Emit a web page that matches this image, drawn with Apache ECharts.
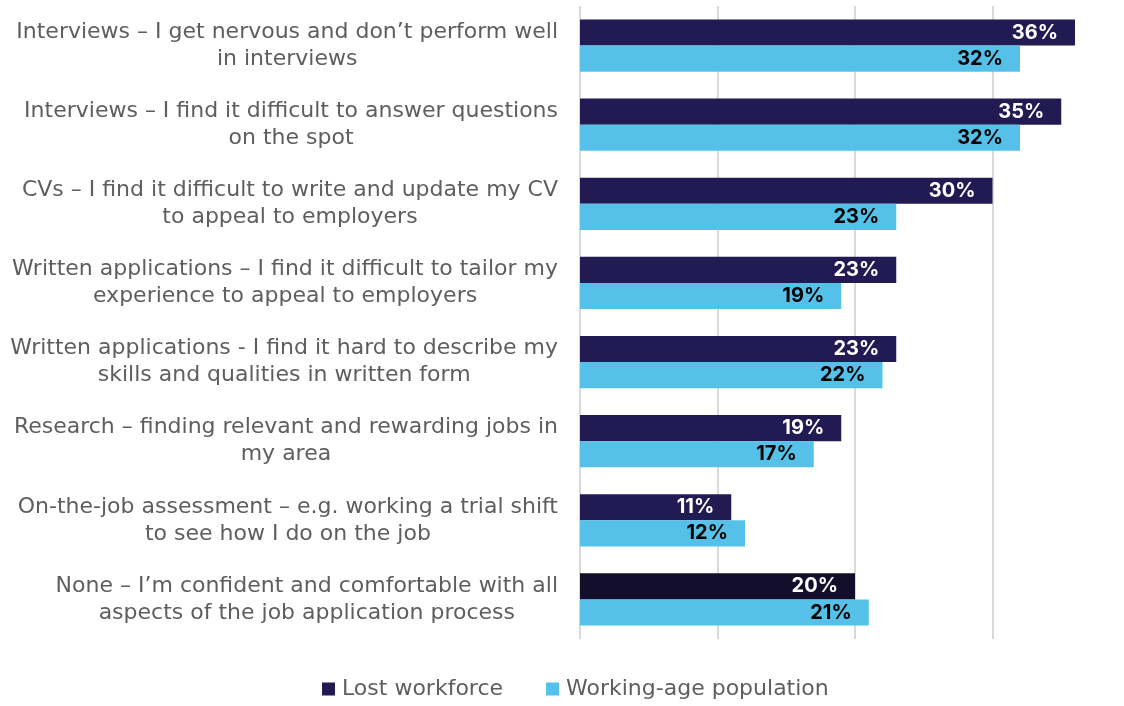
<!DOCTYPE html>
<html>
<head>
<meta charset="utf-8">
<script src="https://cdn.jsdelivr.net/npm/echarts@6/dist/echarts.min.js"></script>
<style>
  html, body { margin: 0; padding: 0; background: #ffffff; }
  #chart { width: 1124px; height: 706px; }
</style>
</head>
<body>
<div id="chart"></div>
<script>
// Barriers in the job application process, share of respondents (%)
const categories = [
  'Interviews – I get nervous and don’t perform well\nin interviews',
  'Interviews – I find it difficult to answer questions\non the spot',
  'CVs – I find it difficult to write and update my CV\nto appeal to employers',
  'Written applications – I find it difficult to tailor my\nexperience to appeal to employers',
  'Written applications - I find it hard to describe my\nskills and qualities in written form',
  'Research – finding relevant and rewarding jobs in\nmy area',
  'On-the-job assessment – e.g. working a trial shift\nto see how I do on the job',
  'None – I’m confident and comfortable with all\naspects of the job application process'
];
const seriesNames = ['Lost workforce', 'Working-age population'];
const lostWorkforce = [36, 35, 30, 23, 23, 19, 11, 20];
const workingAge = [32, 32, 23, 19, 22, 17, 12, 21];

const DARK = '#221a52';
const DARKEST = '#130e2b';
const LIGHT = '#56c1e8';
const TEXT_FONT = '"DejaVu Sans", "Noto Sans", sans-serif';
const VALUE_FONT = 'Inter, "Noto Sans", sans-serif';
const TEXT_COLOR = '#5e5e5e';

const chart = echarts.init(document.getElementById('chart'), null, { renderer: 'canvas' });

// The "None" answer is drawn in a deeper shade for the lost workforce.
const lostData = lostWorkforce.map((v, i) =>
  i === lostWorkforce.length - 1 ? { value: v, itemStyle: { color: DARKEST } } : v
);

const valueLabel = (color) => ({
  show: true,
  position: 'insideRight',
  distance: 17,
  formatter: '{c}%',
  color: color,
  fontFamily: VALUE_FONT,
  fontSize: 20,
  fontWeight: 'bold'
});

chart.setOption({
  animation: false,
  textStyle: { fontFamily: TEXT_FONT },
  grid: {
    left: 580, top: 6, width: 550, height: 633,
    containLabel: false,
    outerBoundsMode: 'none'
  },
  xAxis: {
    type: 'value',
    min: 0,
    max: 40,
    interval: 10,
    axisLine: { show: false },
    axisTick: { show: false },
    axisLabel: { show: false },
    splitLine: { show: true, lineStyle: { color: '#d9d9d9', width: 2 } }
  },
  yAxis: {
    type: 'category',
    inverse: true,
    data: categories,
    axisLine: { show: false },
    axisTick: { show: false },
    axisLabel: {
      margin: 22,
      color: TEXT_COLOR,
      fontFamily: TEXT_FONT,
      fontSize: 22,
      lineHeight: 27,
      // each line is centred within the right-aligned label block
      formatter: (v) => v.split('\n').map((s) => '{c|' + s + '}').join('\n'),
      rich: {
        c: { align: 'center', color: TEXT_COLOR, fontFamily: TEXT_FONT, fontSize: 22, lineHeight: 27 }
      }
    }
  },
  legend: {
    top: 678,
    left: 322,
    padding: 0,
    itemWidth: 13,
    itemHeight: 13,
    itemGap: 43,
    icon: 'rect',
    textStyle: { color: TEXT_COLOR, fontFamily: TEXT_FONT, fontSize: 22, padding: [0, 0, 0, 2] },
    data: seriesNames
  },
  series: [
    {
      name: seriesNames[0],
      type: 'bar',
      data: lostData,
      itemStyle: { color: DARK },
      barGap: '0%',
      barCategoryGap: '34%',
      label: valueLabel('#ffffff')
    },
    {
      name: seriesNames[1],
      type: 'bar',
      data: workingAge,
      itemStyle: { color: LIGHT },
      barGap: '0%',
      barCategoryGap: '34%',
      label: valueLabel('#000000')
    }
  ]
});
</script>
</body>
</html>
